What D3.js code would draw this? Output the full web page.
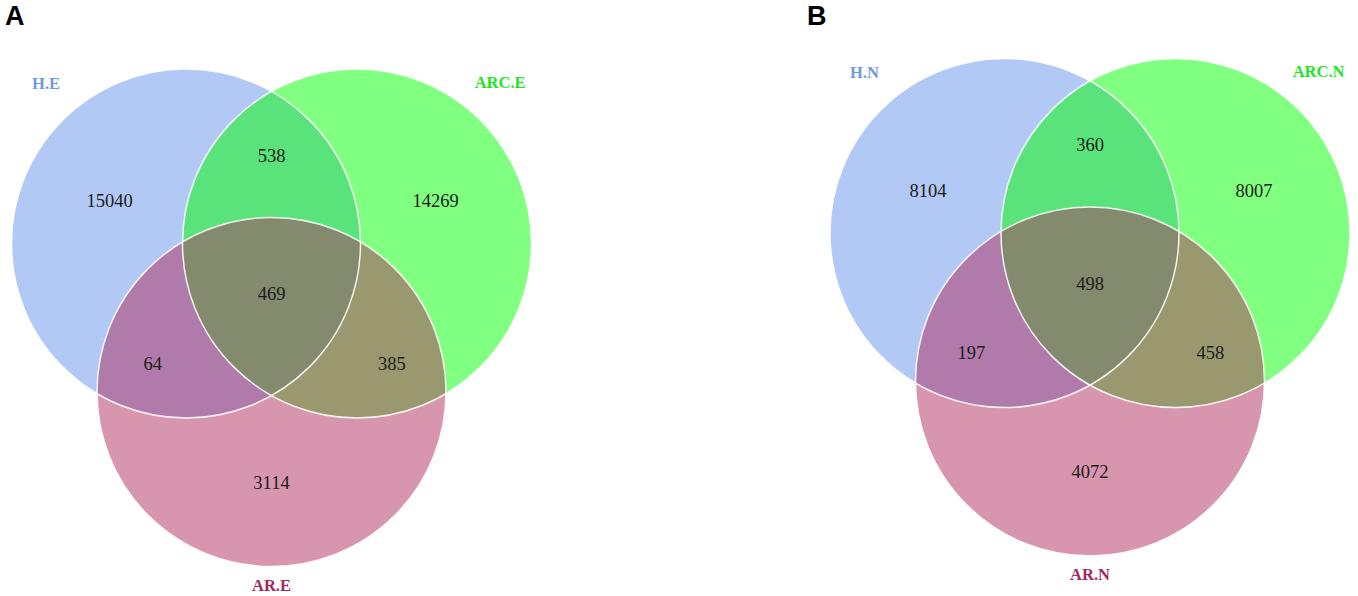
<!DOCTYPE html>
<html>
<head>
<meta charset="utf-8">
<script src="https://cdn.jsdelivr.net/npm/d3@7"></script>
<style>
  body { margin: 0; background: #fff; }
  svg { display: block; }
</style>
</head>
<body>
<div id="chart"></div>
<script>
// data
const panelLetters = ["A", "B"];
const setNamesA = ["H.E", "ARC.E", "AR.E"];
const setNamesB = ["H.N", "ARC.N", "AR.N"];
// region keys: which of the three sets a region belongs to
const regionKeys = ["100", "010", "001", "110", "101", "011", "111"];
const countsA = [15040, 14269, 3114, 538, 64, 385, 469];
const countsB = [8104, 8007, 4072, 360, 197, 458, 498];

// styles
const setColors = ["#b1c9f4", "#80ff80", "#d896ae"];
const labelColors = ["#6b9be0", "#1ee61e", "#a3285c"];
const regionColors = {
  "110": "#5ae37a",
  "101": "#b07aaa",
  "011": "#99986f",
  "111": "#848a6d"
};

// layout (unit space, radius = 1)
const W = 1358, H = 596, R = 174.5;
const centres = [[-0.49, 0], [0.49, 0], [0, 0.851]];
const textPos = {
  "100": [-0.928, -0.246],
  "010": [0.94, -0.246],
  "001": [0, 1.367],
  "110": [0, -0.507],
  "101": [-0.68, 0.685],
  "011": [0.69, 0.685],
  "111": [0, 0.289]
};
const labelPos = [[-1.292, -0.92], [1.31, -0.926], [0, 1.957]];

const panels = [
  {id: "A", letter: panelLetters[0], names: setNamesA, counts: countsA, ox: 271.5, oy: 243.5, lx: 5},
  {id: "B", letter: panelLetters[1], names: setNamesB, counts: countsB, ox: 1090, oy: 233, lx: 807}
];

const svg = d3.select("#chart")
  .append("svg")
    .attr("width", W)
    .attr("height", H);

panels.forEach(function(p) {
  const x = d3.scaleLinear().domain([-1, 1]).range([p.ox - R, p.ox + R]);
  const y = d3.scaleLinear().domain([-1, 1]).range([p.oy - R, p.oy + R]);
  const r = x(1) - x(0);

  const g = svg.append("g");
  const defs = g.append("defs");

  centres.forEach(function(c, i) {
    defs.append("clipPath")
        .attr("id", `clip-${p.id}-${i}`)
      .append("circle")
        .attr("cx", x(c[0]))
        .attr("cy", y(c[1]))
        .attr("r", r);
  });

  // whole circles
  g.selectAll("circle.set")
    .data(centres)
    .join("circle")
      .attr("class", "set")
      .attr("cx", d => x(d[0]))
      .attr("cy", d => y(d[1]))
      .attr("r", r)
      .attr("fill", (d, i) => setColors[i]);

  // pairwise overlaps
  [[0, 1, "110"], [0, 2, "101"], [1, 2, "011"]].forEach(function(pr) {
    g.append("g")
        .attr("clip-path", `url(#clip-${p.id}-${pr[0]})`)
      .append("circle")
        .attr("cx", x(centres[pr[1]][0]))
        .attr("cy", y(centres[pr[1]][1]))
        .attr("r", r)
        .attr("fill", regionColors[pr[2]]);
  });

  // triple overlap
  g.append("g")
      .attr("clip-path", `url(#clip-${p.id}-0)`)
    .append("g")
      .attr("clip-path", `url(#clip-${p.id}-1)`)
    .append("circle")
      .attr("cx", x(centres[2][0]))
      .attr("cy", y(centres[2][1]))
      .attr("r", r)
      .attr("fill", regionColors["111"]);

  // white outlines
  g.selectAll("circle.edge")
    .data(centres)
    .join("circle")
      .attr("class", "edge")
      .attr("cx", d => x(d[0]))
      .attr("cy", d => y(d[1]))
      .attr("r", r)
      .attr("fill", "none")
      .attr("stroke", "#fff")
      .attr("stroke-opacity", 0.9)
      .attr("stroke-width", 1.5);

  // counts
  g.selectAll("text.count")
    .data(regionKeys.map((k, i) => ({key: k, value: p.counts[i]})))
    .join("text")
      .attr("class", "count")
      .attr("x", d => x(textPos[d.key][0]))
      .attr("y", d => y(textPos[d.key][1]))
      .attr("dy", "0.35em")
      .attr("text-anchor", "middle")
      .attr("font-family", "'Liberation Serif', 'Times New Roman', serif")
      .attr("font-size", 18.5)
      .attr("fill", "#1c1c1c")
      .text(d => d.value);

  // set names
  g.selectAll("text.setname")
    .data(p.names)
    .join("text")
      .attr("class", "setname")
      .attr("x", (d, i) => x(labelPos[i][0]))
      .attr("y", (d, i) => y(labelPos[i][1]))
      .attr("dy", "0.35em")
      .attr("text-anchor", "middle")
      .attr("font-family", "'Liberation Serif', 'Times New Roman', serif")
      .attr("font-weight", "bold")
      .attr("font-size", 16.5)
      .attr("fill", (d, i) => labelColors[i])
      .text(d => d);

  // panel letter
  g.append("text")
    .attr("x", p.lx)
    .attr("y", 25)
    .attr("font-family", "'Liberation Sans', Arial, sans-serif")
    .attr("font-weight", "bold")
    .attr("font-size", 27)
    .attr("fill", "#000")
    .text(p.letter);
});
</script>
</body>
</html>
